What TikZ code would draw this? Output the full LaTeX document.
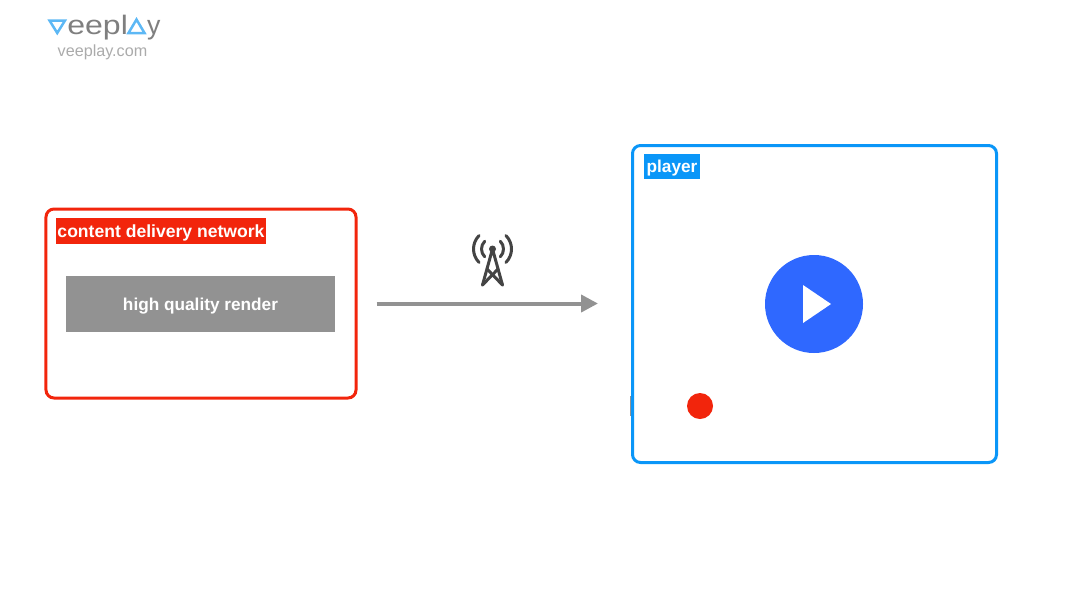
\documentclass[tikz,border=0pt]{standalone}
\usepackage{fontspec}
\setmainfont{Liberation Sans}
\usetikzlibrary{calc, arrows.meta}
\definecolor{cdnred}{HTML}{F2250C}
\definecolor{playerblue}{HTML}{0A96F8}
\definecolor{playbtn}{HTML}{2F68FF}
\definecolor{logoblue}{HTML}{5DB8F5}
\definecolor{logogray}{HTML}{7F7F7F}
\definecolor{renderfill}{HTML}{929292}
\definecolor{towergray}{HTML}{444444}
\tikzset{
    panel/.style={rectangle, rounded corners=0.08cm, line width=0.03cm, fill=white},
    tag/.style={inner sep=0pt, text=white, text height=0.128cm, text depth=0pt, font=\fontsize{4.9}{6}\selectfont\bfseries},
    tower/.style={towergray, line width=0.03cm, line cap=round, line join=round},
    logotri/.style={logoblue, line width=0.025cm, line join=miter},
    logotext/.style={inner sep=0pt, anchor=base west, text=logogray, font=\fontsize{7.6}{9}\selectfont},
    flow/.style={-{Triangle[length=0.17cm,width=0.17cm]}, renderfill, line width=0.04cm}
}
\begin{document}
\begin{tikzpicture}
    \useasboundingbox (0,0) rectangle (10.8,6.08);
    % logo
    \draw[logotri] (0.495,5.875)--(0.65,5.875)--(0.5725,5.75)--cycle;
    \node[logotext, xscale=1.2] (logoa) at (0.665,5.74) {eepl};
    \draw[logotri] (1.285,5.75)--(1.445,5.75)--(1.365,5.885)--cycle;
    \node[logotext] (logob) at (1.465,5.74) {y};
    \node[inner sep=0pt, anchor=base, text=black!33, font=\fontsize{4.6}{6}\selectfont] (site) at (1.025,5.52) {veeplay.com};
    % cdn
    \node[panel, draw=cdnred, minimum width=3.1cm, minimum height=1.89cm] (cdn) at (2.01,3.045) {};
    \node[tag, fill=cdnred, minimum width=2.1cm, minimum height=0.26cm, font=\fontsize{5}{6}\selectfont\bfseries] (cdnlabel) at (1.61,3.77) {content delivery network};
    \node[tag, fill=renderfill, minimum width=2.69cm, minimum height=0.56cm] (render) at (2.005,3.04) {high quality render};
    % player
    \fill[renderfill] (6.30,1.92) rectangle (6.33,2.12);
    \node[panel, draw=playerblue, minimum width=3.64cm, minimum height=3.17cm] (player) at (8.145,3.04) {};
    \node[tag, fill=playerblue, minimum width=0.56cm, minimum height=0.25cm] (playerlabel) at (6.72,4.415) {player};
    \node[circle, fill=playbtn, minimum size=0.98cm, inner sep=0pt] (play) at (8.14,3.04) {};
    \fill[white] (8.03,3.23)--(8.31,3.04)--(8.03,2.85)--cycle;
    \node[circle, fill=cdnred, minimum size=0.26cm, inner sep=0pt] (dot) at (7.00,2.02) {};
    % link
    \draw[flow, shorten <=0.19cm, shorten >=0.33cm] (cdn.east) -- (cdn.east -| player.west);
    % antenna
    \coordinate (apex) at (4.925,3.59);
    \fill[towergray] (apex) circle (0.035);
    \draw[tower] ($(apex)+(-0.1,-0.36)$)--(apex)--($(apex)+(0.1,-0.36)$);
    \draw[tower] ($(apex)+(-0.1,-0.36)$)--($(apex)+(0.055,-0.2)$);
    \draw[tower] ($(apex)+(0.1,-0.36)$)--($(apex)+(-0.055,-0.2)$);
    \draw[tower] ($(apex)+(135:0.11)$) arc (135:225:0.11);
    \draw[tower] ($(apex)+(45:0.11)$) arc (45:-45:0.11);
    \draw[tower] ($(apex)+(135:0.19)$) arc (135:225:0.19);
    \draw[tower] ($(apex)+(45:0.19)$) arc (45:-45:0.19);
\end{tikzpicture}
\end{document}
